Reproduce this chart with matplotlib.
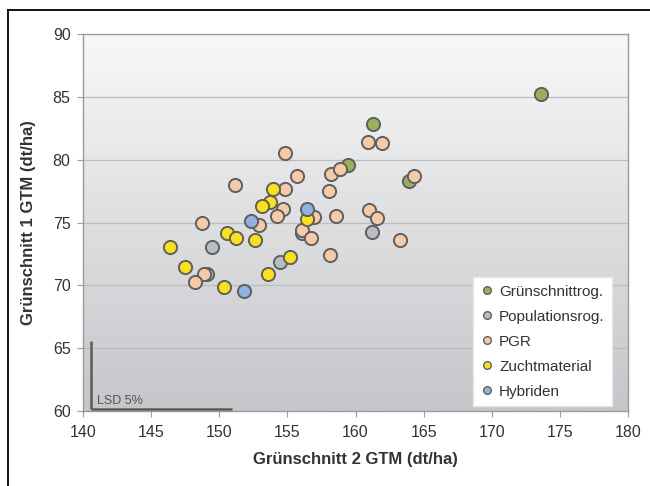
import numpy as np
import matplotlib
matplotlib.use("Agg")
import matplotlib.pyplot as plt
from matplotlib.lines import Line2D

plt.rcParams['font.family'] = ['Liberation Sans', 'DejaVu Sans']

# ---- data ----
series_names = ["Grünschnittrog.", "Populationsrog.", "PGR", "Zuchtmaterial", "Hybriden"]

gruen_x = [173.6, 161.3, 159.45, 163.95]
gruen_y = [85.25, 82.85, 79.6, 78.35]

pop_x = [161.2, 154.45, 149.45, 149.1, 156.1]
pop_y = [74.25, 71.85, 73.1, 70.9, 74.2]

pgr_x = [151.15, 154.8, 155.7, 158.2, 158.85, 160.95, 161.95, 164.3, 158.05, 154.8,
         154.65, 154.25, 156.95, 158.6, 161.0, 161.6, 156.1, 156.75, 163.3, 158.1,
         148.7, 152.95, 148.9, 148.25]
pgr_y = [78.0, 80.55, 78.75, 78.85, 79.25, 81.45, 81.35, 78.75, 77.55, 77.65,
         76.1, 75.5, 75.45, 75.5, 76.0, 75.4, 74.45, 73.8, 73.6, 72.4,
         75.0, 74.85, 70.9, 70.25]

zucht_x = [153.95, 153.7, 153.15, 156.45, 150.55, 151.2, 152.65, 146.4, 147.5, 153.55,
           150.35, 155.2]
zucht_y = [77.7, 76.65, 76.35, 75.3, 74.15, 73.75, 73.6, 73.1, 71.5, 70.95,
           69.85, 72.3]

hyb_x = [156.45, 152.35, 151.85]
hyb_y = [76.1, 75.1, 69.55]

lsd_x = 10.35   # LSD 5% Grünschnitt 2
lsd_y = 5.4     # LSD 5% Grünschnitt 1

x_ticks = [140, 145, 150, 155, 160, 165, 170, 175, 180]
y_ticks = [60, 65, 70, 75, 80, 85, 90]

colors = ["#9bb05a", "#b8bcc4", "#f5cba7", "#f9e21b", "#8eb3e0"]

# ---- figure ----
fig = plt.figure(figsize=(6.5, 4.86), dpi=100)
fig.patch.set_facecolor("white")
ax = fig.add_axes([83/650, 1-411/486, 545/650, 376.5/486])

# gradient background
grad = np.linspace(0, 1, 256).reshape(-1, 1)
top = np.array([248, 248, 248]) / 255
bot = np.array([197, 198, 202]) / 255
img = top + (bot - top) * grad[..., None] ** 1.0
img = img.reshape(256, 1, 3)
ax.imshow(img, extent=[0, 1, 0, 1], transform=ax.transAxes, aspect="auto",
          zorder=0, interpolation="bilinear")
ax.set_facecolor("none")

ax.set_xlim(x_ticks[0], x_ticks[-1])
ax.set_ylim(y_ticks[0], y_ticks[-1])
ax.set_xticks(x_ticks)
ax.set_yticks(y_ticks)

for yv in y_ticks[1:-1]:
    ax.axhline(yv, color="#bdbdbd", lw=0.9, zorder=1)

for s in ax.spines.values():
    s.set_color("#9a9a9a")
    s.set_linewidth(1.0)

ax.tick_params(axis="both", colors="#9a9a9a", labelcolor="#333333",
               labelsize=11.5, length=4, width=0.8, direction="out")
ax.tick_params(axis="x", pad=6)
ax.tick_params(axis="y", pad=5)

xs = [gruen_x, pop_x, pgr_x, zucht_x, hyb_x]
ys = [gruen_y, pop_y, pgr_y, zucht_y, hyb_y]
for i, (name, x, y, c) in enumerate(zip(series_names, xs, ys, colors)):
    ax.scatter(x, y, s=90, facecolor=c, edgecolor="#5f5f5f", linewidths=1.4,
               zorder=3 + i, label=name)

# LSD lines
x0, y0 = 140.6, 60.15
ax.plot([x0, x0], [y0, y0 + lsd_y], color="#5a5a5a", lw=1.8, zorder=2,
        solid_capstyle="butt")
ax.plot([x0, x0 + lsd_x], [y0, y0], color="#5a5a5a", lw=1.8, zorder=2,
        solid_capstyle="butt")
ax.text(141.0, 60.55, "LSD 5%", fontsize=9, color="#555555", zorder=2)

ax.set_xlabel("Grünschnitt 2 GTM (dt/ha)", fontsize=12, fontweight="bold",
              color="#333333", labelpad=9)
ax.set_ylabel("Grünschnitt 1 GTM (dt/ha)", fontsize=12, fontweight="bold",
              color="#333333", labelpad=12)

handles = [Line2D([], [], marker="o", ls="none", markersize=5.5,
                  markerfacecolor=c, markeredgecolor="#5f5f5f",
                  markeredgewidth=1.0) for c in colors]
leg = ax.legend(handles, series_names, loc="upper left",
                bbox_to_anchor=(0.716, 0.356), borderaxespad=0,
                fontsize=11, frameon=True, fancybox=False,
                handlelength=0.8, handletextpad=0.4, labelspacing=0.72,
                borderpad=0.5)
leg.get_frame().set_facecolor("white")
leg.get_frame().set_edgecolor("#e8e8e8")
leg.get_frame().set_alpha(1)
leg.set_zorder(10)
for t in leg.get_texts():
    t.set_color("#333333")

# outer border (top and left, as in the reference crop)
fig.add_artist(Line2D([8/650, 8/650], [0, 1-10/486], transform=fig.transFigure,
                      color="black", lw=1.3))
fig.add_artist(Line2D([8/650, 1], [1-10/486, 1-10/486], transform=fig.transFigure,
                      color="black", lw=1.3))

fig.savefig("out.png", dpi=100)
